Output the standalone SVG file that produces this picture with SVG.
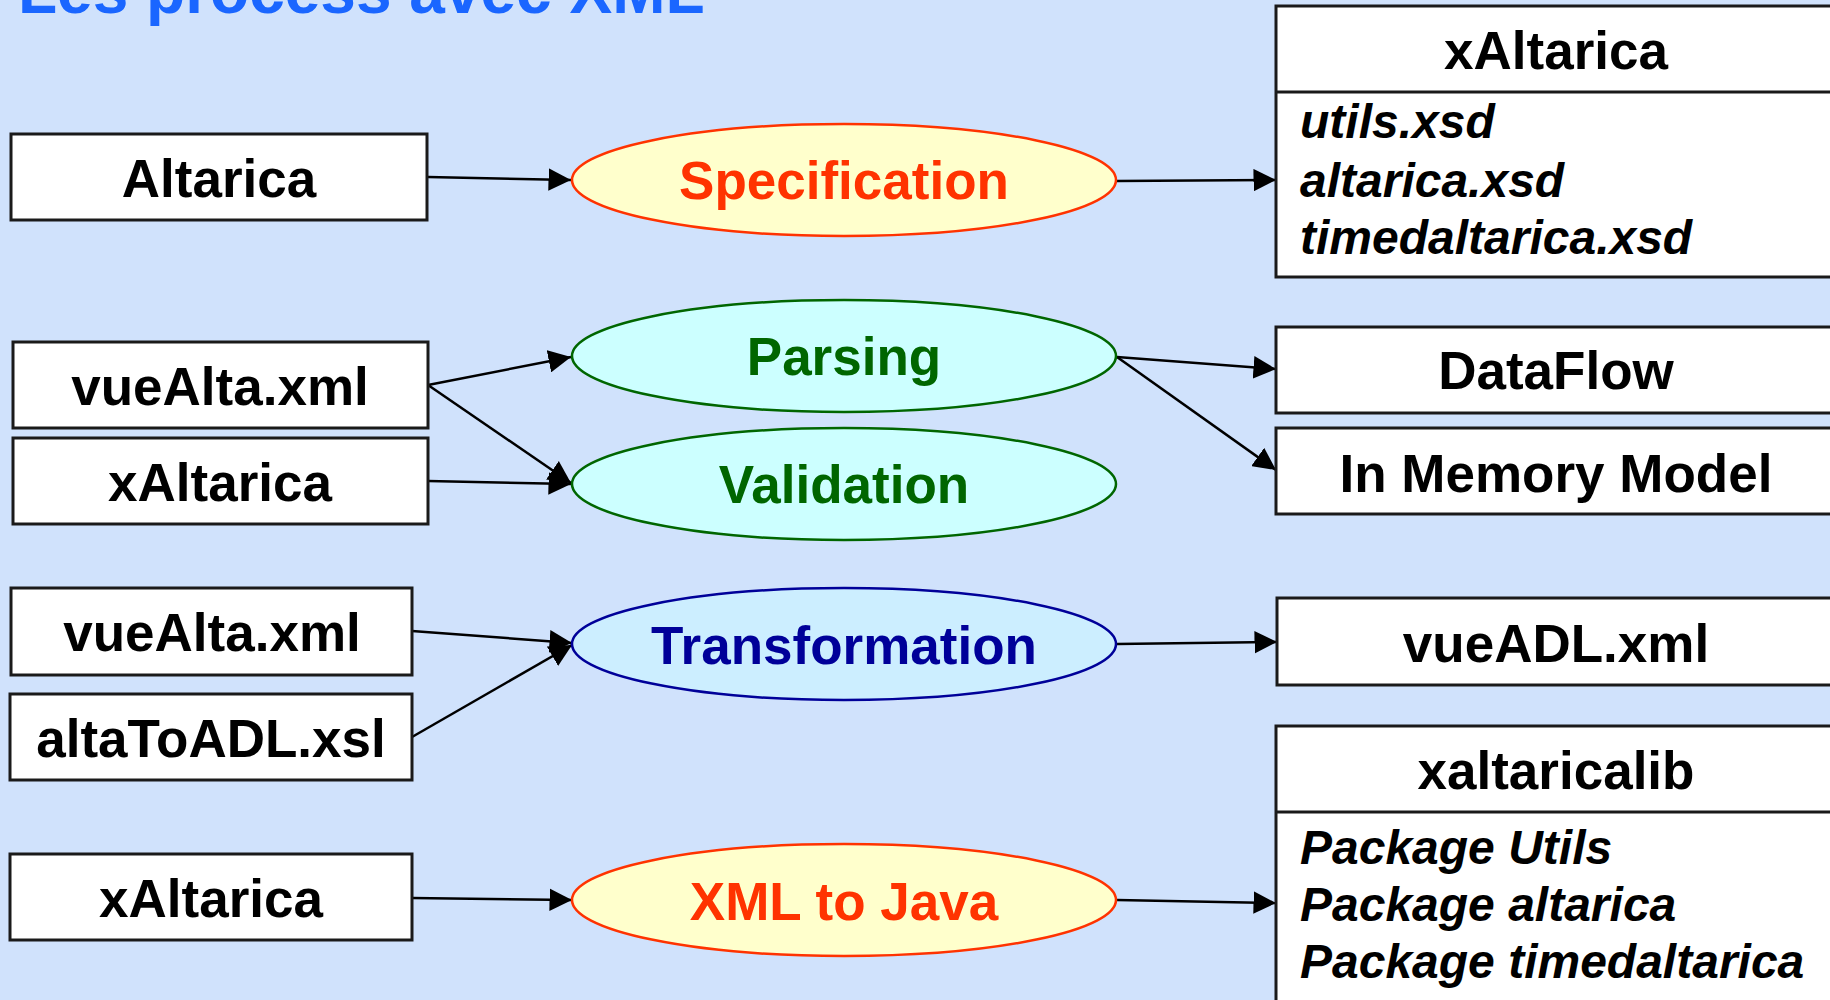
<svg xmlns="http://www.w3.org/2000/svg" width="1830" height="1000" viewBox="0 0 1830 1000">
<style>
.bg{fill:#d0e2fc}
.box{fill:#ffffff;stroke:#1a1a1a;stroke-width:3}
.t{font-family:"Liberation Sans",Arial,sans-serif;font-weight:bold;font-size:53px;text-anchor:middle;fill:#000}
.it{font-family:"Liberation Sans",Arial,sans-serif;font-weight:bold;font-style:italic;font-size:48px;fill:#000}
.title{font-family:"Liberation Sans",Arial,sans-serif;font-weight:bold;font-size:64px;fill:#1a66ff}
.e-red{fill:#ffffcc;stroke:#ff3300;stroke-width:2.5}
.e-green{fill:#ccffff;stroke:#006600;stroke-width:2.5}
.e-blue{fill:#cceeff;stroke:#000099;stroke-width:2.5}
.c-red{fill:#ff3300}
.c-green{fill:#006600}
.c-blue{fill:#000099}
.conn line{stroke:#000;stroke-width:2.5;marker-end:url(#arr)}
</style>
<defs>
<marker id="arr" viewBox="0 0 10 10" refX="10" refY="5" markerWidth="9" markerHeight="9" markerUnits="strokeWidth" orient="auto">
<path d="M0,0 L10,5 L0,10 Z" fill="#000"/>
</marker>
</defs>
<rect class="bg" x="0" y="0" width="1830" height="1000"/>
<text class="title" x="18" y="13">Les process avec XML</text>

<g id="connectors" class="conn">
<line x1="428" y1="177" x2="571" y2="180"/>
<line x1="1117" y1="181" x2="1276" y2="180"/>
<line x1="428" y1="385" x2="571" y2="357"/>
<line x1="428" y1="385" x2="571" y2="483"/>
<line x1="428" y1="481" x2="571" y2="484"/>
<line x1="1117" y1="357" x2="1276" y2="369"/>
<line x1="1117" y1="357" x2="1276" y2="470"/>
<line x1="412" y1="631" x2="572" y2="643"/>
<line x1="412" y1="737" x2="572" y2="645"/>
<line x1="1117" y1="644" x2="1277" y2="642"/>
<line x1="412" y1="898" x2="572" y2="900"/>
<line x1="1117" y1="900" x2="1276" y2="903"/>
</g>

<g id="n-altarica">
<rect class="box" x="11" y="134" width="416" height="86"/>
<text class="t" x="219" y="197">Altarica</text>
</g>

<g id="n-specification">
<ellipse class="e-red" cx="844" cy="180" rx="272" ry="56"/>
<text class="t c-red" x="844" y="199">Specification</text>
</g>

<g id="n-xaltarica-xsd">
<rect class="box" x="1276" y="6" width="560" height="271"/>
<line x1="1276" y1="92" x2="1836" y2="92" stroke="#1a1a1a" stroke-width="3"/>
<text class="t" x="1556" y="69">xAltarica</text>
<text class="it" x="1300" y="138">utils.xsd</text>
<text class="it" x="1300" y="197">altarica.xsd</text>
<text class="it" x="1300" y="254">timedaltarica.xsd</text>
</g>

<g id="n-vuealta1">
<rect class="box" x="13" y="342" width="415" height="86"/>
<text class="t" x="220" y="405">vueAlta.xml</text>
</g>

<g id="n-xaltarica2">
<rect class="box" x="13" y="438" width="415" height="86"/>
<text class="t" x="220" y="501">xAltarica</text>
</g>

<g id="n-parsing">
<ellipse class="e-green" cx="844" cy="356" rx="272" ry="56"/>
<text class="t c-green" x="844" y="375">Parsing</text>
</g>

<g id="n-validation">
<ellipse class="e-green" cx="844" cy="484" rx="272" ry="56"/>
<text class="t c-green" x="844" y="503">Validation</text>
</g>

<g id="n-dataflow">
<rect class="box" x="1276" y="327" width="560" height="86"/>
<text class="t" x="1556" y="389">DataFlow</text>
</g>

<g id="n-inmemory">
<rect class="box" x="1276" y="428" width="560" height="86"/>
<text class="t" x="1556" y="492">In Memory Model</text>
</g>

<g id="n-vuealta2">
<rect class="box" x="11" y="588" width="401" height="87"/>
<text class="t" x="212" y="651">vueAlta.xml</text>
</g>

<g id="n-altatoadl">
<rect class="box" x="10" y="694" width="402" height="86"/>
<text class="t" x="211" y="757">altaToADL.xsl</text>
</g>

<g id="n-transformation">
<ellipse class="e-blue" cx="844" cy="644" rx="272" ry="56"/>
<text class="t c-blue" x="844" y="664">Transformation</text>
</g>

<g id="n-vueadl">
<rect class="box" x="1277" y="598" width="560" height="87"/>
<text class="t" x="1556" y="662">vueADL.xml</text>
</g>

<g id="n-xaltarica3">
<rect class="box" x="10" y="854" width="402" height="86"/>
<text class="t" x="211" y="917">xAltarica</text>
</g>

<g id="n-xmltojava">
<ellipse class="e-red" cx="844" cy="900" rx="272" ry="56"/>
<text class="t c-red" x="844" y="920">XML to Java</text>
</g>

<g id="n-xaltaricalib">
<rect class="box" x="1276" y="726" width="560" height="300"/>
<line x1="1276" y1="812" x2="1836" y2="812" stroke="#1a1a1a" stroke-width="3"/>
<text class="t" x="1556" y="789">xaltaricalib</text>
<text class="it" x="1300" y="864">Package Utils</text>
<text class="it" x="1300" y="921">Package altarica</text>
<text class="it" x="1300" y="978">Package timedaltarica</text>
</g>
</svg>
